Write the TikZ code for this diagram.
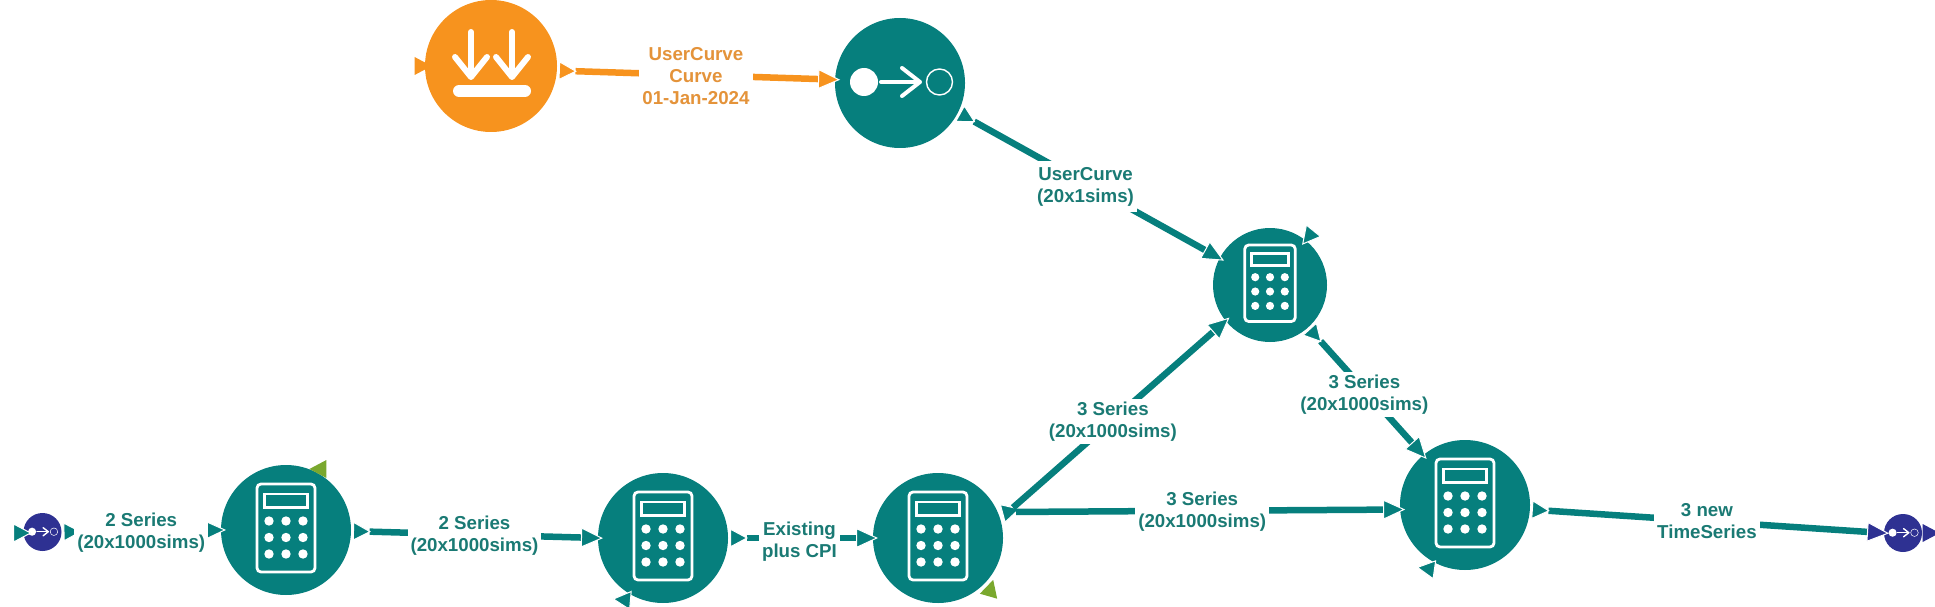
\documentclass[tikz,border=0pt]{standalone}
\usepackage{fontspec}
\setmainfont{Liberation Sans}
\usetikzlibrary{shapes.geometric,arrows.meta}
\definecolor{tealc}{HTML}{067F7D}
\definecolor{tealt}{HTML}{1A7A74}
\definecolor{orangec}{HTML}{F7931E}
\definecolor{oranget}{HTML}{E4933A}
\definecolor{navyc}{HTML}{2E3192}
\definecolor{greenc}{HTML}{7AA82E}

\begin{document}
\begin{tikzpicture}[
  x=1pt, y=-1pt,
  font=\bfseries\fontsize{18.7}{22}\selectfont,
  disc/.style={circle, fill=tealc, minimum size=130pt, inner sep=0pt, outer sep=0pt},
  smalldisc/.style={disc, fill=navyc, minimum size=38pt},
  port/.style={isosceles triangle, isosceles triangle apex angle=60, isosceles triangle stretches,
    minimum width=18pt, minimum height=17pt, inner sep=0pt, outer sep=0pt, fill=tealc, draw=white, line width=1pt},
  lbl/.style={fill=white, text=tealt, align=center, inner sep=3pt},
  wire/.style={draw=tealc, line width=6.5pt, shorten >=-5pt,
    -{Triangle[length=22pt, width=20pt, color=white, fill=tealc, line width=1pt]}},
  flowto/.style 2 args={draw=#1, line width=6.5pt, shorten >=-5pt, shorten <=2pt,
    {Triangle[reversed, length=18pt, width=19pt, color=white, fill=#1, line width=1pt]}-{Triangle[length=22pt, width=20pt, color=white, fill=#2, line width=1pt]}},
  flow/.style={flowto={tealc}{tealc}},
  calcicon/.pic={
    \draw[white, line width=2.8pt, rounded corners=4pt] (-29,-46) rectangle (29,42);
    \draw[white, line width=2.6pt] (-21.5,-36) rectangle (21.5,-22.5);
    \foreach \dotx in {-17,0,17}
      \foreach \doty in {-9,7.5,24}
        \fill[white] (\dotx,\doty) circle (4.7);
  },
  flowicon/.pic={
    \fill[white] (-36,-1) circle (14);
    \draw[white, line cap=round] (-19,-1) -- (18,-1);
    \draw[white, line cap=round, line join=round] (2,-15) -- (20,-1) -- (2,13);
    \draw[white, line width=0.6*\pgflinewidth] (39.5,-1) circle (13);
  }
]
  \useasboundingbox (0,0) rectangle (1935,607);

  % Top row: load and curve
  \node[disc, fill=orangec, minimum size=132pt] (loadCurve) at (491,66) {};
  \node[disc] (mapCurve) at (900,83) {};
  \draw[white, line width=6pt, line cap=round] (471,32) -- (471,76);
  \draw[white, line width=6pt, line cap=round, line join=round] (455,57) -- (471,77) -- (487,57);
  \draw[white, line width=6pt, line cap=round] (512,32) -- (512,76);
  \draw[white, line width=6pt, line cap=round, line join=round] (496,57) -- (512,77) -- (528,57);
  \draw[white, line width=12pt, line cap=round] (459,91) -- (525,91);
  \pic[line width=4pt] at (mapCurve) {flowicon};
  \node[port, fill=orangec, draw=none] (loadIn) at (420,66) {};

  % Middle and bottom row: calculators
  \node[disc, minimum size=114pt] (calcD) at (1270,285) {};
  \node[disc] (calcE) at (1465,505) {};
  \node[disc] (calcA) at (286,530) {};
  \node[disc] (calcB) at (663,538) {};
  \node[disc] (calcC) at (938,538) {};
  \foreach \calcname in {calcA,calcB,calcC,calcE}
    \pic at (\calcname) {calcicon};
  \pic[scale=0.87] at (calcD) {calcicon};

  % Small start and end nodes
  \node[smalldisc] (mapIn) at (42.5,532) {};
  \node[smalldisc] (mapOut) at (1903,533) {};
  \pic[scale=0.29, line width=1.4pt] at (mapIn) {flowicon};
  \pic[scale=0.29, line width=1.4pt] at (mapOut) {flowicon};

  % Free ports
  \node[port] (inPort) at (19,533) {};
  \node[port, fill=navyc, draw=none] (outPort) at (1928,533) {};
  \node[port, fill=greenc, draw=none, rotate=180] (markA) at (321,469) {};
  \node[port, fill=greenc, draw=none, rotate=74] (markC) at (990,591) {};
  \node[port, rotate=175] (portB) at (625,600) {};
  \node[port, rotate=231] (portD) at (1310,235) {};
  \node[port, rotate=172] (portE) at (1429,569) {};
  \node[port, rotate=15] (portC) at (1008,512) {};

  % Connectors
  \draw[flowto={orangec}{orangec}] (loadCurve.-4) -- node[lbl, text=oranget, yshift=-1pt] (lblCurve) {UserCurve\\Curve\\01-Jan-2024} (mapCurve.177);
  \draw[flow] (mapCurve.-27) -- node[lbl, pos=0.48, yshift=-4pt, xshift=2pt, inner ysep=6pt] (lblUser) {UserCurve\\(20x1sims)} (calcD.152);
  \draw[flow] (mapIn.0) -- node[lbl, yshift=-2pt] (lblIn) {2 Series\\(20x1000sims)} (calcA.180);
  \draw[flow] (calcA.-1) -- node[lbl, yshift=-1pt] (lblAB) {2 Series\\(20x1000sims)} (calcB.180);
  \draw[flow] (calcB.0) -- node[lbl, yshift=-4pt, xshift=-1pt, inner ysep=0pt] (lblBC) {Existing\\plus CPI} (calcC.180);
  \draw[wire] (portC) -- node[lbl, pos=0.46, xshift=2pt] (lblCD) {3 Series\\(20x1000sims)} (calcD.219);
  \draw[wire] (portC) -- node[lbl, pos=0.49, yshift=-1pt, xshift=-2pt] (lblCE) {3 Series\\(20x1000sims)} (calcE.184);
  \draw[flow] (calcD.-48) -- node[lbl, pos=0.48, yshift=-6pt, xshift=1pt] (lblDE) {3 Series\\(20x1000sims)} (calcE.130);
  \draw[flowto={tealc}{navyc}] (calcE.-4) -- node[lbl] (lblOut) {3 new\\TimeSeries} (mapOut.180);
\end{tikzpicture}
\end{document}
